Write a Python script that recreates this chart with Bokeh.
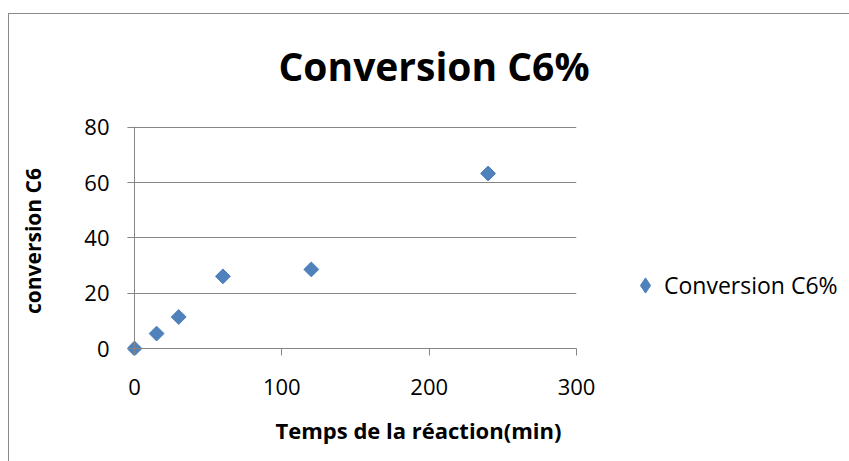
import numpy as np
from bokeh.plotting import figure
from bokeh.layouts import row
from bokeh.models import (ColumnDataSource, Legend, LegendItem, Title,
                          FixedTicker, Span, InlineStyleSheet)
from bokeh.embed import file_html
from bokeh.resources import INLINE

# ---- data ----
time_min = [0, 15, 30, 60, 120, 240]
conversion = [0, 5.4, 11.4, 26.1, 28.6, 63.3]
x_ticks = [0, 100, 200, 300]
y_ticks = [0, 20, 40, 60, 80]
title_text = "Conversion C6%"
x_label = "Temps de la réaction(min)"
y_label = "conversion C6"
series_name = "Conversion C6%"

FONT = "Open Sans"
GREY = "#868686"
BLUE = "#4F81BD"
EDGE = "#4A7EBB"

src = ColumnDataSource(data=dict(x=time_min, y=conversion))

W_MAIN = 600
FRAME_LEFT = 127
p = figure(width=W_MAIN, height=461, x_range=(-4.75, 300), y_range=(-2.53, 80.3),
           output_backend="svg", toolbar_location=None)
p.min_border_left = FRAME_LEFT
p.min_border_right = W_MAIN - 576
p.min_border_top = 126
p.min_border_bottom = 106
p.outline_line_color = None
p.background_fill_color = "white"
p.border_fill_color = "white"

# title
p.title.text = title_text
p.title.text_font = FONT
p.title.text_font_size = "39px"
p.title.text_font_style = "bold"
p.title.text_color = "black"
p.title.align = "left"
p.title.offset = 151
p.title.standoff = 70

# axes (at frame edges; the zero lines are drawn as spans)
xa = p.xaxis[0]
ya = p.yaxis[0]
xa.ticker = FixedTicker(ticks=x_ticks)
ya.ticker = FixedTicker(ticks=y_ticks)
for ax in (xa, ya):
    ax.axis_line_color = None
    ax.major_tick_line_color = GREY
    ax.major_tick_out = 0
    ax.major_tick_in = 7
    ax.minor_tick_line_color = None
    ax.major_label_text_font = FONT
    ax.major_label_text_font_size = "22px"
    ax.major_label_text_color = "black"
ya.axis_label = y_label
ya.axis_label_text_font = FONT
ya.axis_label_text_font_style = "bold"
ya.axis_label_text_color = "black"
ya.axis_label_text_font_size = "21px"
ya.axis_label_standoff = 34
xa.major_label_standoff = 23
ya.major_label_standoff = 18

# x-axis title, centred on the whole chart area as in the reference
xt = Title(text=x_label, align="left", offset=148, standoff=31,
           text_font=FONT, text_font_size="22px", text_font_style="bold",
           text_color="black")
p.add_layout(xt, "below")

p.xgrid.grid_line_color = None
p.ygrid.grid_line_color = GREY
p.ygrid.grid_line_width = 1
p.ygrid.ticker = FixedTicker(ticks=y_ticks)

p.add_layout(Span(location=0, dimension="width", line_color=GREY, line_width=1))
p.add_layout(Span(location=0, dimension="height", line_color=GREY, line_width=1))

p.scatter("x", "y", source=src, marker="square", angle=np.pi / 4, size=10.5,
          fill_color=BLUE, line_color=EDGE, line_width=1)

# ---- legend panel on the right (same series, its points lie outside this view) ----
p2 = figure(width=849 - W_MAIN, height=461, x_range=(1000, 1001), y_range=(1000, 1001),
            output_backend="svg", toolbar_location=None,
            x_axis_type=None, y_axis_type=None)
p2.min_border_left = 0
p2.min_border_right = 0
p2.min_border_top = 0
p2.min_border_bottom = 0
p2.outline_line_color = None
p2.grid.visible = False
p2.border_fill_color = "white"
r_leg = p2.scatter("x", "y", source=src, marker="diamond", fill_color=BLUE,
                   line_color=EDGE, line_width=1)

G = 38
legend = Legend(items=[LegendItem(label=series_name, renderers=[r_leg])],
                location=(645 - G // 2 - W_MAIN, 51))
legend.label_text_font = FONT
legend.label_text_font_size = "23px"
legend.label_text_color = "black"
legend.border_line_color = None
legend.background_fill_alpha = 0
legend.padding = 0
legend.margin = 0
legend.glyph_width = G
legend.glyph_height = G
legend.label_height = G
legend.label_standoff = 0
p2.add_layout(legend, "center")

layout = row(p, p2, spacing=0)
# outer chart-area border (left and top edges visible in the window)
layout.stylesheets = [InlineStyleSheet(css=(
    ":host::after { content: ''; position: absolute; left: 8px; top: 13px; "
    "right: 0px; bottom: 0px; border-left: 1.5px solid #8a8a8a; "
    "border-top: 1.5px solid #8a8a8a; pointer-events: none; }"))]

open("out.html", "w").write(file_html(layout, INLINE))
